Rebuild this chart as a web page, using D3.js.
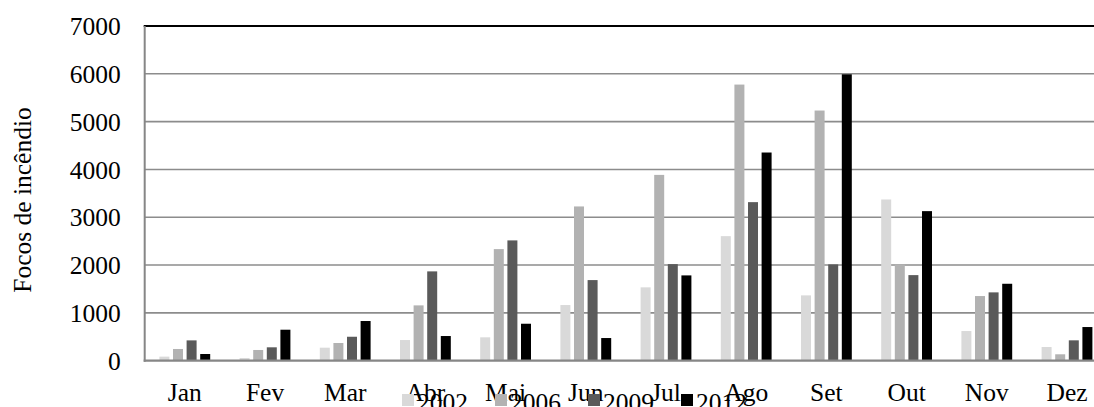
<!DOCTYPE html>
<html>
<head>
<meta charset="utf-8">
<script src="https://cdn.jsdelivr.net/npm/d3@7"></script>
<style>
  html, body { margin: 0; padding: 0; background: #fff; }
  svg { display: block; }
  text { font-family: "Liberation Serif", "Times New Roman", serif; fill: #000; }
</style>
</head>
<body>
<svg id="chart" width="1094" height="407"></svg>
<script>
// Monthly fire hotspot counts ("Focos de incêndio") per year
const months = ["Jan", "Fev", "Mar", "Abr", "Mai", "Jun", "Jul", "Ago", "Set", "Out", "Nov", "Dez"];
const years = ["2002", "2006", "2009", "2012"];
const focos2002 = [85, 56, 272, 432, 489, 1164, 1534, 2605, 1366, 3372, 620, 286];
const focos2006 = [245, 224, 370, 1157, 2334, 3226, 3886, 5775, 5232, 2014, 1352, 134];
const focos2009 = [425, 280, 501, 1868, 2516, 1686, 2020, 3316, 2014, 1790, 1429, 426];
const focos2012 = [140, 648, 830, 516, 773, 474, 1784, 4354, 5990, 3128, 1609, 704];
const yTicks = [0, 1000, 2000, 3000, 4000, 5000, 6000, 7000];
const colors = ["#d9d9d9", "#b2b2b2", "#5a5a5a", "#000000"];

const seriesValues = [focos2002, focos2006, focos2009, focos2012];
const rows = months.map((m, i) => ({
  month: m,
  values: years.map((y, j) => ({ year: y, value: seriesValues[j][i], idx: j }))
}));

const svg = d3.select("#chart");
const fontSize = 25.5;

const plotLeft = 144.7, plotRight = 1107.1, plotTop = 26, plotBottom = 360.7;

const x0 = d3.scaleBand()
  .domain(months)
  .range([plotLeft, plotRight])
  .paddingInner(0.3666)
  .paddingOuter(0.1833);

const x1 = d3.scaleBand()
  .domain(years)
  .range([0, x0.bandwidth()])
  .paddingInner(0.265)
  .paddingOuter(0);

const y = d3.scaleLinear().domain([0, 7000]).range([plotBottom, plotTop]);

// horizontal gridlines
svg.append("g")
  .selectAll("line")
  .data(yTicks.filter(t => t > 0 && t < 7000))
  .join("line")
  .attr("x1", plotLeft).attr("x2", 1094)
  .attr("y1", d => y(d)).attr("y2", d => y(d))
  .attr("stroke", "#8c8c8c")
  .attr("stroke-width", 1.6);

// top border line
svg.append("line")
  .attr("x1", plotLeft - 1).attr("x2", 1094)
  .attr("y1", y(7000)).attr("y2", y(7000))
  .attr("stroke", "#000").attr("stroke-width", 2);

// bars
svg.append("g")
  .selectAll("g")
  .data(rows)
  .join("g")
  .attr("transform", d => `translate(${x0(d.month)},0)`)
  .selectAll("rect")
  .data(d => d.values)
  .join("rect")
  .attr("x", d => x1(d.year))
  .attr("width", x1.bandwidth())
  .attr("y", d => y(d.value))
  .attr("height", d => y(0) - y(d.value))
  .attr("fill", d => colors[d.idx]);

// left axis line
svg.append("line")
  .attr("x1", plotLeft).attr("x2", plotLeft)
  .attr("y1", y(7000)).attr("y2", plotBottom + 1)
  .attr("stroke", "#868686").attr("stroke-width", 2);

// bottom axis line
svg.append("line")
  .attr("x1", plotLeft - 1).attr("x2", 1094)
  .attr("y1", plotBottom).attr("y2", plotBottom)
  .attr("stroke", "#868686").attr("stroke-width", 2.2);

// y tick labels
const yAxis = d3.axisLeft(y).tickValues(yTicks).tickFormat(d3.format("d")).tickSize(0).tickPadding(24);
const gy = svg.append("g").attr("transform", `translate(${plotLeft},0)`).call(yAxis);
gy.select(".domain").remove();
gy.selectAll("text")
  .attr("font-size", fontSize)
  .attr("font-family", "Liberation Serif, Times New Roman, serif")
  .attr("fill", "#000")
  .attr("dy", "0.34em");

// x tick labels
const xAxis = d3.axisBottom(x0).tickSize(0).tickPadding(0);
const gx = svg.append("g").attr("transform", `translate(0,${plotBottom})`).call(xAxis);
gx.select(".domain").remove();
gx.selectAll("text")
  .attr("font-size", fontSize)
  .attr("font-family", "Liberation Serif, Times New Roman, serif")
  .attr("fill", "#000")
  .attr("y", 40)
  .attr("dy", 0);

// y axis title
svg.append("text")
  .attr("transform", "translate(31,200) rotate(-90)")
  .attr("text-anchor", "middle")
  .attr("font-size", fontSize)
  .text("Focos de incêndio");

// legend
const legendX = d3.scaleLinear().domain([0, 1]).range([402, 495]);
const legend = svg.append("g")
  .selectAll("g")
  .data(years)
  .join("g")
  .attr("transform", (d, i) => `translate(${legendX(i)},394)`);
legend.append("rect")
  .attr("width", 12).attr("height", 12)
  .attr("fill", (d, i) => colors[i]);
legend.append("text")
  .attr("x", 15).attr("y", 17)
  .attr("font-size", fontSize)
  .text(d => d);
</script>
</body>
</html>
